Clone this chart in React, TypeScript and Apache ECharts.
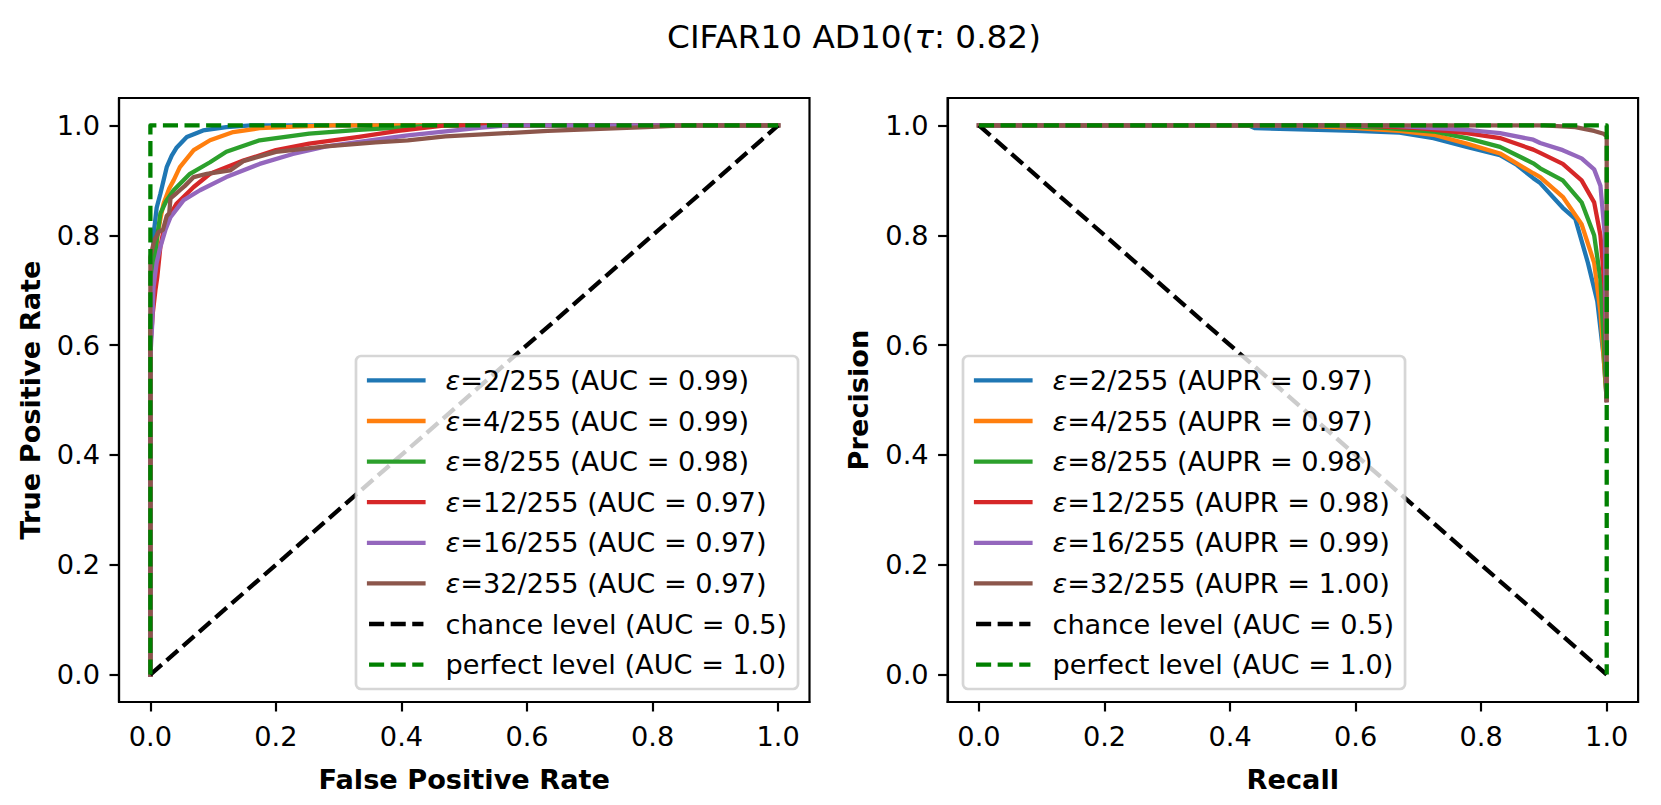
import React, { useEffect, useRef } from 'react';
import * as echarts from 'echarts';

// ---------- data ----------
const TICKS = [0, 0.2, 0.4, 0.6, 0.8, 1.0];
const EPS_LABELS = ['2/255', '4/255', '8/255', '12/255', '16/255', '32/255'];
const AUC_VALUES = ['0.99', '0.99', '0.98', '0.97', '0.97', '0.97'];
const AUPR_VALUES = ['0.97', '0.97', '0.98', '0.98', '0.99', '1.00'];
const COLORS = ['#1f77b4', '#ff7f0e', '#2ca02c', '#d62728', '#9467bd', '#8c564b'];

const roc2 = [[0, 0], [0, 0.64], [0.002, 0.7], [0.004, 0.76], [0.006, 0.81], [0.01, 0.85], [0.016, 0.876], [0.026, 0.924], [0.034, 0.945], [0.042, 0.96], [0.058, 0.979], [0.084, 0.991], [0.121, 0.997], [0.16, 1], [1, 1]];
const roc4 = [[0, 0], [0, 0.62], [0.003, 0.7], [0.007, 0.75], [0.011, 0.797], [0.016, 0.83], [0.021, 0.858], [0.03, 0.885], [0.037, 0.9], [0.047, 0.924], [0.069, 0.955], [0.095, 0.973], [0.132, 0.988], [0.174, 0.995], [0.23, 0.998], [0.29, 1], [1, 1]];
const roc8 = [[0, 0], [0, 0.62], [0.003, 0.7], [0.006, 0.75], [0.01, 0.79], [0.016, 0.84], [0.025, 0.862], [0.037, 0.882], [0.063, 0.912], [0.095, 0.933], [0.121, 0.952], [0.174, 0.973], [0.253, 0.985], [0.332, 0.992], [0.41, 0.997], [0.45, 1], [1, 1]];
const roc12 = [[0, 0], [0, 0.6], [0.004, 0.66], [0.008, 0.7], [0.011, 0.724], [0.016, 0.78], [0.021, 0.809], [0.03, 0.835], [0.042, 0.858], [0.069, 0.888], [0.095, 0.912], [0.148, 0.936], [0.2, 0.955], [0.253, 0.967], [0.332, 0.979], [0.395, 0.99], [0.47, 1], [1, 1]];
const roc16 = [[0, 0], [0, 0.58], [0.003, 0.64], [0.005, 0.706], [0.01, 0.75], [0.016, 0.779], [0.024, 0.81], [0.032, 0.833], [0.053, 0.864], [0.079, 0.882], [0.121, 0.906], [0.174, 0.93], [0.227, 0.948], [0.28, 0.962], [0.359, 0.974], [0.41, 0.982], [0.527, 0.996], [0.57, 1], [1, 1]];
const roc32 = [[0, 0], [0, 0.76], [0.004, 0.78], [0.006, 0.79], [0.013, 0.806], [0.02, 0.81], [0.026, 0.835], [0.03, 0.84], [0.032, 0.867], [0.04, 0.875], [0.047, 0.882], [0.055, 0.89], [0.069, 0.906], [0.09, 0.912], [0.127, 0.918], [0.148, 0.935], [0.2, 0.952], [0.28, 0.962], [0.359, 0.969], [0.41, 0.973], [0.47, 0.98], [0.633, 0.99], [0.79, 0.997], [0.85, 1], [1, 1]];
const rocChance = [[0, 0], [1, 1]];
const rocPerfect = [[0, 0], [0, 1], [1, 1]];

const pr2 = [[0, 1], [0.43, 1], [0.44, 0.995], [0.6, 0.99], [0.67, 0.987], [0.724, 0.977], [0.777, 0.961], [0.83, 0.946], [0.857, 0.928], [0.883, 0.904], [0.894, 0.895], [0.93, 0.85], [0.95, 0.83], [0.97, 0.75], [0.985, 0.68], [0.995, 0.58], [1, 0.5]];
const pr4 = [[0, 1], [0.5, 1], [0.6, 0.995], [0.67, 0.99], [0.724, 0.983], [0.777, 0.967], [0.83, 0.949], [0.883, 0.913], [0.894, 0.906], [0.93, 0.87], [0.96, 0.82], [0.98, 0.75], [0.99, 0.66], [1, 0.5]];
const pr8 = [[0, 1], [0.55, 1], [0.65, 0.995], [0.724, 0.989], [0.777, 0.977], [0.83, 0.961], [0.883, 0.931], [0.894, 0.922], [0.93, 0.9], [0.96, 0.86], [0.98, 0.8], [0.99, 0.72], [1, 0.5]];
const pr12 = [[0, 1], [0.6, 1], [0.7, 0.995], [0.777, 0.986], [0.83, 0.977], [0.883, 0.956], [0.894, 0.95], [0.93, 0.93], [0.96, 0.9], [0.98, 0.86], [0.99, 0.8], [0.997, 0.7], [1, 0.5]];
const pr16 = [[0, 1], [0.65, 1], [0.777, 0.992], [0.83, 0.986], [0.883, 0.974], [0.894, 0.968], [0.93, 0.955], [0.96, 0.94], [0.98, 0.92], [0.99, 0.89], [0.997, 0.8], [1, 0.5]];
const pr32 = [[0, 1], [0.9, 1], [0.95, 0.997], [0.98, 0.99], [0.995, 0.985], [1, 0.98], [1, 0.5]];
const prChance = [[0, 1], [1, 0]];
const prPerfect = [[0, 1], [1, 1], [1, 0]];

const ROC_CURVES = [roc2, roc4, roc8, roc12, roc16, roc32];
const PR_CURVES = [pr2, pr4, pr8, pr12, pr16, pr32];

const CHANCE_NAME = 'chance level (AUC = 0.5)';
const PERFECT_NAME = 'perfect level (AUC = 1.0)';

// ---------- style ----------
const FONT = 'DejaVu Sans';
const FS = 27.2;
const LW = 4.3;
const AXW = 2.18;
const DASH = [15.1, 6.5];

const GRID_TOP = 98;
const GRID_H = 604;
const GRID_W = 690.5;
const LEFT1 = 119;
const LEFT2 = 947.6;

function xAxisCfg(gridIndex: number, name: string) {
  return {
    type: 'value', gridIndex, min: -0.05, max: 1.05, name, nameLocation: 'middle', nameGap: 61,
    nameTextStyle: { fontFamily: FONT, fontSize: FS, fontWeight: 'bold', color: '#000', lineHeight: 32 },
    axisLine: { show: true, onZero: false, lineStyle: { color: '#000', width: AXW } },
    axisTick: { show: true, inside: false, length: 9.5, lineStyle: { color: '#000', width: AXW }, customValues: TICKS },
    axisLabel: { show: true, margin: 18, fontFamily: FONT, fontSize: FS, color: '#000', lineHeight: 32, customValues: TICKS, formatter: (v: number) => v.toFixed(1) },
    splitLine: { show: false },
  };
}
function yAxisCfg(gridIndex: number, name: string) {
  return {
    type: 'value', gridIndex, min: -0.05, max: 1.05, name, nameLocation: 'middle', nameGap: 73, nameRotate: 90,
    nameTextStyle: { fontFamily: FONT, fontSize: FS, fontWeight: 'bold', color: '#000', lineHeight: 32 },
    axisLine: { show: true, onZero: false, lineStyle: { color: '#000', width: AXW } },
    axisTick: { show: true, inside: false, length: 9.5, lineStyle: { color: '#000', width: AXW }, customValues: TICKS },
    axisLabel: { show: true, margin: 19, fontFamily: FONT, fontSize: FS, color: '#000', lineHeight: 32, customValues: TICKS, formatter: (v: number) => v.toFixed(1) },
    splitLine: { show: false },
  };
}

function curve(name: string, data: number[][], color: string, idx: number, dashed: boolean) {
  return {
    type: 'line', name, xAxisIndex: idx, yAxisIndex: idx, data,
    showSymbol: false, symbol: 'none', silent: true,
    lineStyle: { color, width: LW, type: dashed ? DASH : 'solid', join: 'round', cap: dashed ? 'butt' : 'square' },
    itemStyle: { color },
    emphasis: { disabled: true },
  };
}

const legendFormatter = (name: string) =>
  name.startsWith('ε') ? `{e|ε}{t|${name.slice(1)}}` : `{p|${name}}`;

function legendCfg(left: number, names: string[]) {
  return {
    data: names, orient: 'vertical', left, top: 356,
    itemWidth: 54.4, itemHeight: 27, itemGap: 13.6, padding: 10.9,
    backgroundColor: 'rgba(255,255,255,0.8)', borderColor: 'rgba(204,204,204,0.8)', borderWidth: 2.7, borderRadius: 5,
    selectedMode: false,
    itemStyle: { opacity: 0, borderWidth: 0 },
    lineStyle: { width: LW },
    formatter: legendFormatter,
    textStyle: {
      fontFamily: FONT, fontSize: FS, color: '#000',
      rich: {
        e: { fontFamily: FONT, fontSize: FS, fontStyle: 'italic', color: '#000', padding: [0, 0, 0, 17], lineHeight: 27 },
        t: { fontFamily: FONT, fontSize: FS, color: '#000', lineHeight: 27 },
        p: { fontFamily: FONT, fontSize: FS, color: '#000', padding: [0, 0, 0, 17], lineHeight: 27 },
      },
    },
  };
}

export default function App() {
  const ref = useRef<HTMLDivElement>(null);
  useEffect(() => {
    const chart = echarts.init(ref.current!, null, { renderer: 'svg' });
    const rocNames = EPS_LABELS.map((e, i) => `ε=${e} (AUC = ${AUC_VALUES[i]})`);
    const prNames = EPS_LABELS.map((e, i) => `ε=${e} (AUPR = ${AUPR_VALUES[i]})`);
    const series: any[] = [];
    ROC_CURVES.forEach((d, i) => series.push(curve(rocNames[i], d, COLORS[i], 0, false)));
    series.push(curve(CHANCE_NAME, rocChance, '#000000', 0, true));
    series.push(curve(PERFECT_NAME, rocPerfect, '#008000', 0, true));
    PR_CURVES.forEach((d, i) => series.push(curve(prNames[i], d, COLORS[i], 1, false)));
    series.push(curve(CHANCE_NAME, prChance, '#000000', 1, true));
    series.push(curve(PERFECT_NAME, prPerfect, '#008000', 1, true));

    const option: any = {
      animation: false,
      backgroundColor: '#ffffff',
      grid: [
        { left: LEFT1, top: GRID_TOP, width: GRID_W, height: GRID_H, show: true, borderColor: '#000', borderWidth: AXW, containLabel: false },
        { left: LEFT2, top: GRID_TOP, width: GRID_W, height: GRID_H, show: true, borderColor: '#000', borderWidth: AXW, containLabel: false },
      ],
      xAxis: [xAxisCfg(0, 'False Positive Rate'), xAxisCfg(1, 'Recall')],
      yAxis: [yAxisCfg(0, 'True Positive Rate'), yAxisCfg(1, 'Precision')],
      legend: [
        legendCfg(356, [...rocNames, CHANCE_NAME, PERFECT_NAME]),
        legendCfg(963, [...prNames, CHANCE_NAME, PERFECT_NAME]),
      ],
      graphic: [
        {
          type: 'text', x: 854, y: 37,
          style: {
            text: '{a|CIFAR10 AD10(}{b|τ}{a|: 0.82)}',
            align: 'center', verticalAlign: 'middle',
            rich: {
              a: { fontFamily: FONT, fontSize: 32.7, fill: '#000' },
              b: { fontFamily: FONT, fontSize: 32.7, fontStyle: 'italic', fill: '#000' },
            },
          },
        },
      ],
      series,
    };
    chart.setOption(option);
    return () => chart.dispose();
  }, []);
  return (
    <div
      ref={ref}
      style={{ position: 'fixed', left: 0, top: 0, width: 1661, height: 805, background: '#fff' }}
    />
  );
}
